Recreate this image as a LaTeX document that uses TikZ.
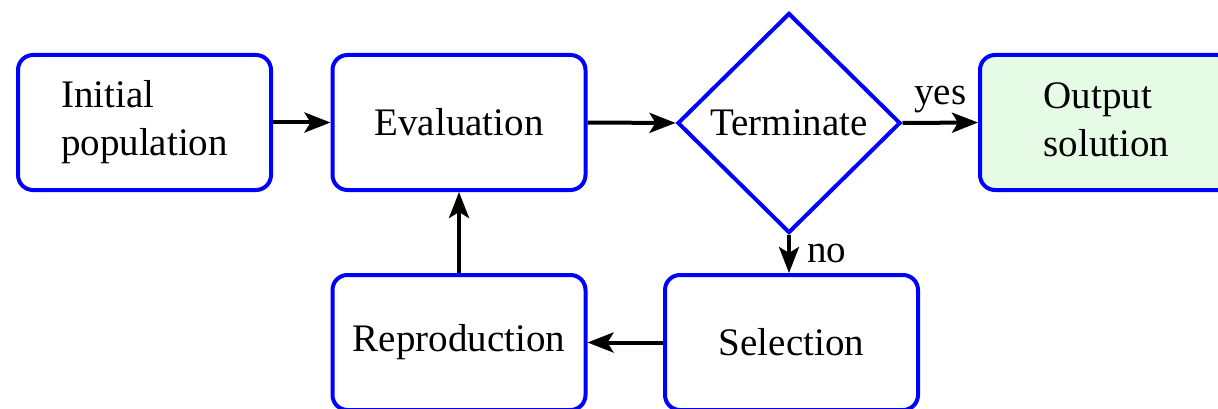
\documentclass[tikz,border=0pt]{standalone}
\usepackage{fontspec}
\setmainfont{Liberation Serif}
\newfontfamily\tnrfont{Liberation Serif}
\usetikzlibrary{shapes.geometric,arrows.meta}
\definecolor{boxblue}{RGB}{0,0,255}
\definecolor{outgreen}{RGB}{229,251,229}
\begin{document}
\begin{tikzpicture}[x=1pt,y=-1pt,
  every node/.style={font=\tnrfont\fontsize{39}{48}\selectfont},
  procbox/.style={draw=boxblue,line width=4pt,rounded corners=15pt,minimum width=253pt,minimum height=135pt,align=left,inner sep=0pt},
  decbox/.style={draw=boxblue,line width=4pt,shape=diamond,minimum width=223pt,minimum height=220pt,inner sep=0pt},
  conn/.style={line width=4pt,-{Stealth[length=26pt,width=20pt,inset=6pt]}},
  lbl/.style={inner sep=0pt}]
\useasboundingbox (0,0) rectangle (1218,409);
\clip (0,0) rectangle (1218,409);
\node[procbox] (init) at (144.5,122.5) {Initial\\population};
\node[procbox] (eval) at (459,122.5) {Evaluation};
\node[decbox] (term) at (789,123) {Terminate};
\node[procbox,fill=outgreen] (out) at (1106.5,122.5) {\raisebox{-5pt}{\begin{tabular}{@{}l@{}}Output\\solution\end{tabular}}};
\node[procbox] (repr) at (459,342.5) {Reproduction};
\node[procbox] (sel) at (791.5,342.5) {\raisebox{-5pt}{Selection}};
\draw[conn] (init.east) -- (eval.west);
\draw[conn] (eval.east) -- (term.west);
\draw[conn] (term.east) -- node[lbl,above=8pt] (yes) {yes} (out.west);
\draw[conn] (term.south) -- node[lbl,right=16pt] (no) {no} (term.south |- sel.north);
\draw[conn] (sel.west) -- (sel.west -| repr.east);
\draw[conn] (repr.north) -- (eval.south);
\end{tikzpicture}
\end{document}
